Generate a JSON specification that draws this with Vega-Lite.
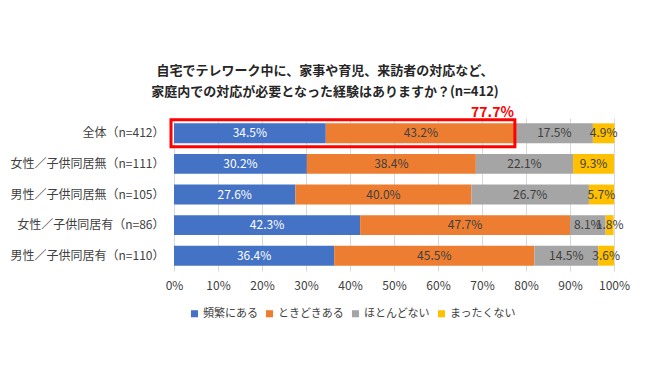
{
  "$schema": "https://vega.github.io/schema/vega-lite/v6.json",
  "width": 440,
  "height": 153,
  "autosize": {"type": "none"},
  "padding": {"left": 174, "top": 118, "right": 36, "bottom": 109},
  "background": "white",
  "config": {
    "font": "Noto Sans CJK JP",
    "view": {"stroke": null}
  },
  "title": {
    "text": ["自宅でテレワーク中に、家事や育児、来訪者の対応など、", "家庭内での対応が必要となった経験はありますか？(n=412)"],
    "fontSize": 13,
    "fontWeight": "bold",
    "color": "#262626",
    "anchor": "middle",
    "dx": -69,
    "offset": 7,
    "lineHeight": 21,
    "font": "Noto Sans CJK JP"
  },
  "datasets": {
    "main": [
      {"group": "全体（n=412）", "answer": "頻繁にある", "k": 1, "value": 34.5},
      {"group": "全体（n=412）", "answer": "ときどきある", "k": 2, "value": 43.2},
      {"group": "全体（n=412）", "answer": "ほとんどない", "k": 3, "value": 17.5},
      {"group": "全体（n=412）", "answer": "まったくない", "k": 4, "value": 4.9},
      {"group": "女性／子供同居無（n=111）", "answer": "頻繁にある", "k": 1, "value": 30.2},
      {"group": "女性／子供同居無（n=111）", "answer": "ときどきある", "k": 2, "value": 38.4},
      {"group": "女性／子供同居無（n=111）", "answer": "ほとんどない", "k": 3, "value": 22.1},
      {"group": "女性／子供同居無（n=111）", "answer": "まったくない", "k": 4, "value": 9.3},
      {"group": "男性／子供同居無（n=105）", "answer": "頻繁にある", "k": 1, "value": 27.6},
      {"group": "男性／子供同居無（n=105）", "answer": "ときどきある", "k": 2, "value": 40.0},
      {"group": "男性／子供同居無（n=105）", "answer": "ほとんどない", "k": 3, "value": 26.7},
      {"group": "男性／子供同居無（n=105）", "answer": "まったくない", "k": 4, "value": 5.7},
      {"group": "女性／子供同居有（n=86）", "answer": "頻繁にある", "k": 1, "value": 42.3},
      {"group": "女性／子供同居有（n=86）", "answer": "ときどきある", "k": 2, "value": 47.7},
      {"group": "女性／子供同居有（n=86）", "answer": "ほとんどない", "k": 3, "value": 8.1},
      {"group": "女性／子供同居有（n=86）", "answer": "まったくない", "k": 4, "value": 1.8},
      {"group": "男性／子供同居有（n=110）", "answer": "頻繁にある", "k": 1, "value": 36.4},
      {"group": "男性／子供同居有（n=110）", "answer": "ときどきある", "k": 2, "value": 45.5},
      {"group": "男性／子供同居有（n=110）", "answer": "ほとんどない", "k": 3, "value": 14.5},
      {"group": "男性／子供同居有（n=110）", "answer": "まったくない", "k": 4, "value": 3.6}
    ],
    "highlight": [
      {"group": "全体（n=412）", "start": 0, "end": 77.7, "label": "77.7%"}
    ]
  },
  "layer": [
    {
      "data": {"name": "main"},
      "transform": [
        {"stack": "value", "groupby": ["group"], "sort": [{"field": "k", "order": "ascending"}], "as": ["v0", "v1"]}
      ],
      "mark": {"type": "bar"},
      "encoding": {
        "y": {
          "field": "group", "type": "nominal",
          "sort": ["全体（n=412）", "女性／子供同居無（n=111）", "男性／子供同居無（n=105）", "女性／子供同居有（n=86）", "男性／子供同居有（n=110）"],
          "scale": {"paddingInner": 0.35, "paddingOuter": 0.175},
          "axis": {"title": null, "ticks": false, "domain": false, "labelFontSize": 12, "labelColor": "#404040", "labelPadding": 10, "labelFont": "Noto Sans CJK JP"}
        },
        "x": {
          "field": "v0", "type": "quantitative",
          "scale": {"domain": [0, 100], "nice": false},
          "axis": {"title": null, "values": [0, 10, 20, 30, 40, 50, 60, 70, 80, 90, 100], "labelExpr": "datum.value + '%'", "labelFlush": false, "labelOverlap": false, "ticks": false, "domain": false, "grid": true, "gridColor": "#d9d9d9", "labelFontSize": 12, "labelColor": "#404040", "labelPadding": 9, "labelFont": "Noto Sans CJK JP"}
        },
        "x2": {"field": "v1"},
        "color": {
          "field": "answer", "type": "nominal",
          "sort": ["頻繁にある", "ときどきある", "ほとんどない", "まったくない"],
          "scale": {"domain": ["頻繁にある", "ときどきある", "ほとんどない", "まったくない"], "range": ["#4472C4", "#ED7D31", "#A5A5A5", "#FFC000"]},
          "legend": {"title": null, "orient": "none", "direction": "horizontal", "legendX": 15, "legendY": 190, "symbolType": "square", "symbolSize": 50, "symbolStrokeWidth": 0, "labelFontSize": 11, "labelColor": "#404040", "labelFont": "Noto Sans CJK JP", "columnPadding": 6, "labelOffset": 3}
        }
      }
    },
    {
      "data": {"name": "main"},
      "transform": [
        {"stack": "value", "groupby": ["group"], "sort": [{"field": "k", "order": "ascending"}], "as": ["v0", "v1"]},
        {"calculate": "(datum.v0 + datum.v1) / 2", "as": "mid"},
        {"calculate": "format(datum.value, '.1f') + '%'", "as": "lbl"}
      ],
      "mark": {"type": "text", "fontSize": 12, "font": "Noto Sans CJK JP"},
      "encoding": {
        "y": {"field": "group", "type": "nominal", "sort": ["全体（n=412）", "女性／子供同居無（n=111）", "男性／子供同居無（n=105）", "女性／子供同居有（n=86）", "男性／子供同居有（n=110）"]},
        "x": {"field": "mid", "type": "quantitative"},
        "text": {"field": "lbl"},
        "color": {
          "condition": {"test": "datum.answer === '頻繁にある'", "value": "white"},
          "value": "#404040"
        }
      }
    },
    {
      "data": {"name": "highlight"},
      "mark": {"type": "bar", "size": 27, "fill": null, "fillOpacity": 0, "stroke": "#FF0000", "strokeWidth": 3, "xOffset": -3, "x2Offset": -1},
      "encoding": {
        "y": {"field": "group", "type": "nominal", "sort": ["全体（n=412）", "女性／子供同居無（n=111）", "男性／子供同居無（n=105）", "女性／子供同居有（n=86）", "男性／子供同居有（n=110）"]},
        "x": {"field": "start", "type": "quantitative"},
        "x2": {"field": "end"}
      }
    },
    {
      "data": {"name": "highlight"},
      "mark": {"type": "text", "fontSize": 14, "fontWeight": "bold", "color": "#FF0000", "align": "right", "baseline": "middle", "dx": -2, "dy": -20, "font": "Noto Sans CJK JP"},
      "encoding": {
        "y": {"field": "group", "type": "nominal", "sort": ["全体（n=412）", "女性／子供同居無（n=111）", "男性／子供同居無（n=105）", "女性／子供同居有（n=86）", "男性／子供同居有（n=110）"]},
        "x": {"field": "end", "type": "quantitative"},
        "text": {"field": "label"}
      }
    }
  ]
}
